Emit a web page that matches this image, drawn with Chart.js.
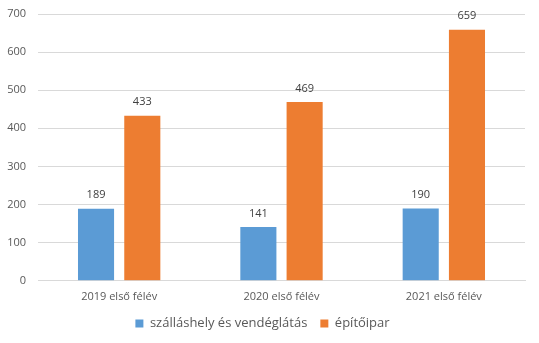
<!DOCTYPE html>
<html>
<head>
<meta charset="utf-8">
<script src="https://cdn.jsdelivr.net/npm/chart.js@4"></script>
<style>
  html, body { margin: 0; padding: 0; background: #fff; }
  #wrap { width: 539px; height: 343px; }
</style>
</head>
<body>
<div id="wrap"><canvas id="chart" width="539" height="343"></canvas></div>
<script>
const categories = ["2019 első félév", "2020 első félév", "2021 első félév"];
const seriesNames = ["szálláshely és vendéglátás", "építőipar"];
const accommodation = [189, 141, 190];
const construction = [433, 469, 659];
const yTicks = [0, 100, 200, 300, 400, 500, 600, 700];

const FONT = "'Open Sans', 'Liberation Sans', sans-serif";
const TEXT = "#595959";

// writes each bar's value just above it
const valueLabels = {
  id: "valueLabels",
  afterDatasetsDraw(chart) {
    const ctx = chart.ctx;
    ctx.save();
    ctx.font = "11px " + FONT;
    ctx.fillStyle = "#404040";
    ctx.textAlign = "center";
    ctx.textBaseline = "bottom";
    chart.data.datasets.forEach((ds, i) => {
      chart.getDatasetMeta(i).data.forEach((bar, j) => {
        ctx.fillText(ds.data[j], bar.x, bar.y - 8);
      });
    });
    ctx.restore();
  }
};

new Chart(document.getElementById("chart"), {
  type: "bar",
  data: {
    labels: categories,
    datasets: [
      { label: seriesNames[0], data: accommodation, backgroundColor: "#5B9BD5" },
      { label: seriesNames[1], data: construction, backgroundColor: "#ED7D31" }
    ]
  },
  options: {
    responsive: false,
    animation: false,
    categoryPercentage: 0.57,
    barPercentage: 0.78,
    layout: { padding: { top: 14, right: 14, bottom: 3, left: 0 } },
    plugins: {
      legend: {
        position: "bottom",
        labels: {
          font: { family: FONT, size: 13 },
          color: TEXT,
          boxWidth: 8,
          boxHeight: 8,
          padding: 13
        }
      },
      tooltip: { enabled: false }
    },
    scales: {
      x: {
        grid: { display: false },
        border: { color: "#d9d9d9" },
        ticks: { font: { family: FONT, size: 11 }, color: TEXT, padding: 1 }
      },
      y: {
        min: 0,
        max: 700,
        afterBuildTicks: (axis) => { axis.ticks = yTicks.map(v => ({ value: v })); },
        afterFit: (axis) => { axis.width = 38; axis.paddingTop = 0; },
        grid: { color: "#d9d9d9", drawTicks: false },
        border: { display: false },
        ticks: { font: { family: FONT, size: 11 }, color: TEXT, padding: 12 }
      }
    }
  },
  plugins: [valueLabels]
});
</script>
</body>
</html>
